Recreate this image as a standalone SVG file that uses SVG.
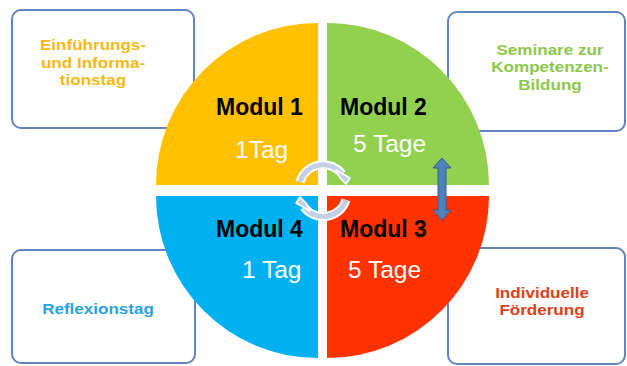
<svg xmlns="http://www.w3.org/2000/svg" width="627" height="366" viewBox="0 0 627 366">
<style>
.box{fill:#ffffff;stroke:#6283c0;stroke-width:2}
.lbl{font-family:"Liberation Sans",Arial,sans-serif;font-weight:bold;font-size:15.5px;text-anchor:middle}
.mod{font-family:"Liberation Sans",Arial,sans-serif;font-weight:bold;font-size:23px;fill:#000}
.day{font-family:"Liberation Sans",Arial,sans-serif;font-size:24.5px;fill:#fff}
</style>
<rect width="627" height="366" fill="#ffffff"/>
<g id="box-einfuehrung">
<rect class="box" x="12" y="10" width="182" height="118" rx="9"/>
<g transform="translate(93 0) scale(1.1 1)">
<text class="lbl" fill="#f5b914"><tspan x="0" y="50.5">Einführungs-</tspan><tspan x="0" y="68">und Informa-</tspan><tspan x="0" y="85.5">tionstag</tspan></text>
</g>
</g>
<g id="box-seminare">
<rect class="box" x="448" y="12" width="177" height="119" rx="9"/>
<g transform="translate(550 0) scale(1.1 1)">
<text class="lbl" fill="#8cc84b"><tspan x="0" y="55">Seminare zur</tspan><tspan x="0" y="72.5">Kompetenzen-</tspan><tspan x="0" y="90">Bildung</tspan></text>
</g>
</g>
<g id="box-reflexion">
<rect class="box" x="12" y="250" width="183" height="113" rx="9"/>
<g transform="translate(98 0) scale(1.1 1)">
<text class="lbl" x="0" y="314" fill="#2aa2dc">Reflexionstag</text>
</g>
</g>
<g id="box-foerderung">
<rect class="box" x="448" y="248" width="177" height="116" rx="9"/>
<g transform="translate(542 0) scale(1.1 1)">
<text class="lbl" fill="#d9421c"><tspan x="0" y="298">Individuelle</tspan><tspan x="0" y="315.5">Förderung</tspan></text>
</g>
</g>
<g id="modul1">
<path d="M318 185 L156 185 A162 162 0 0 1 318 23 Z" fill="#ffc000"/>
<text class="mod" x="216" y="115">Modul 1</text>
<text class="day" x="235" y="158">1Tag</text>
</g>
<g id="modul2">
<path d="M327 185 L327 23 A162 162 0 0 1 489 185 Z" fill="#92d050"/>
<text class="mod" x="340" y="115">Modul 2</text>
<text class="day" x="353" y="152" fill="#f2f2f2">5 Tage</text>
</g>
<g id="modul4">
<path d="M318 196 L318 358 A162 162 0 0 1 156 196 Z" fill="#00b0f0"/>
<text class="mod" x="216" y="237">Modul 4</text>
<text class="day" x="242" y="278">1 Tag</text>
</g>
<g id="modul3">
<path d="M327 196 L489 196 A162 162 0 0 1 327 358 Z" fill="#ff3300"/>
<text class="mod" x="340" y="237">Modul 3</text>
<text class="day" x="348" y="278">5 Tage</text>
</g>
<g id="connectors">
<g stroke-linejoin="round">
<path d="M300 182 A24 24 0 0 1 342 174" fill="none" stroke="#ffffff" stroke-width="9"/>
<path d="M300 182 A24 24 0 0 1 342 174" fill="none" stroke="#c5d0e6" stroke-width="5"/>
<polygon points="336,170 350,178 346,184 340,178" fill="#c5d0e6" stroke="#ffffff" stroke-width="1.5"/>
<path d="M346 200 A24 24 0 0 1 304 207" fill="none" stroke="#ffffff" stroke-width="9"/>
<path d="M346 200 A24 24 0 0 1 304 207" fill="none" stroke="#c5d0e6" stroke-width="5"/>
<polygon points="310,211 296,203 300,197 306,203" fill="#c5d0e6" stroke="#ffffff" stroke-width="1.5"/>
</g>
<polygon points="442,158 451,168 446,168 446,210 451,210 442,220 433,210 438,210 438,168 433,168" fill="#4f81bd" stroke="#385d8a" stroke-width="1"/>
</g>
</svg>
